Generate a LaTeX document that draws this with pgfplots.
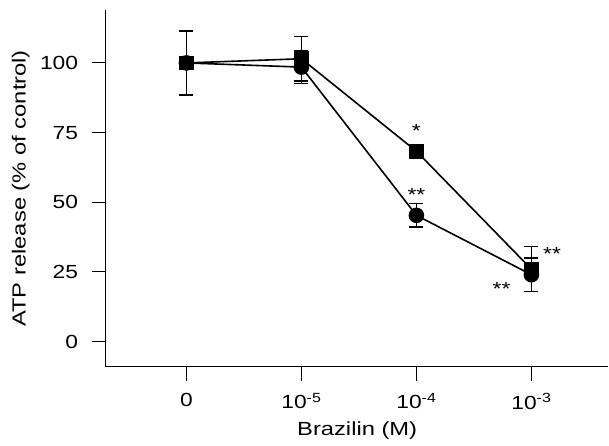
\documentclass[border=0pt]{standalone}
\usepackage{pgfplots}
\pgfplotsset{compat=1.18}
\usepackage{fontspec}
\setmainfont{Liberation Sans}
\newfontfamily\labelfont[FakeStretch=1.25]{Liberation Sans}
\newfontfamily\tickfont[FakeStretch=1.2]{Liberation Sans}
\begin{document}
\fontsize{17}{20}\selectfont
\begin{tikzpicture}
\begin{axis}[
  scale only axis, width=503pt, height=357pt,
  xmin=-0.7, xmax=3.67, ymin=-9, ymax=119,
  axis x line=bottom, axis y line=left,
  axis line style={-, line width=1.1pt},
  tick align=outside, major tick length=14pt,
  tick style={line width=1.1pt, black},
  xtick={0,1,2,3},
  xticklabels={0,10\textsuperscript{-5},10\textsuperscript{-4},10\textsuperscript{-3}},
  ytick={0,25,50,75,100},
  /pgf/number format/assume math mode=true,
  ticklabel style={font=\tickfont\fontsize{19}{22}\selectfont},
  yticklabel style={xshift=-8pt},
  xticklabel style={yshift=-7pt},
  label style={font=\labelfont\fontsize{19}{22}\selectfont},
  xlabel={Brazilin (M)},
  ylabel={ATP release (\% of control)},
  ylabel style={yshift=-1pt},
  xlabel style={yshift=-1pt},
  clip=false,
  every axis plot/.append style={line width=1.6pt, black},
  error bars/error bar style={line width=1.3pt},
  error bars/error mark options={rotate=90, mark size=7pt, line width=1.3pt},
]
% square series
\addplot[mark=square*, mark size=6.5pt, error bars/.cd, y dir=both, y explicit]
  coordinates {(0,100) +- (0,11.5) (1,101.5) +- (0,8) (2,68.3) +- (0,2.5) (3,26) +- (0,8)};
% circle series
\addplot[mark=*, mark size=7pt, error bars/.cd, y dir=both, y explicit]
  coordinates {(0,100) +- (0,11.5) (1,98.5) +- (0,5.8) (2,45.3) +- (0,4.2) (3,24) +- (0,6)};
\node[font=\tickfont\fontsize{19}{20}\selectfont] at (axis cs:2,75.5) {*};
\node[font=\tickfont\fontsize{19}{20}\selectfont] at (axis cs:2,52.5) {**};
\node[font=\tickfont\fontsize{19}{20}\selectfont] at (axis cs:3.18,31.5) {**};
\node[font=\tickfont\fontsize{19}{20}\selectfont] at (axis cs:2.74,19) {**};
\path (rel axis cs:0,1) ++(-106pt,10pt);
\end{axis}
\end{tikzpicture}
\end{document}
